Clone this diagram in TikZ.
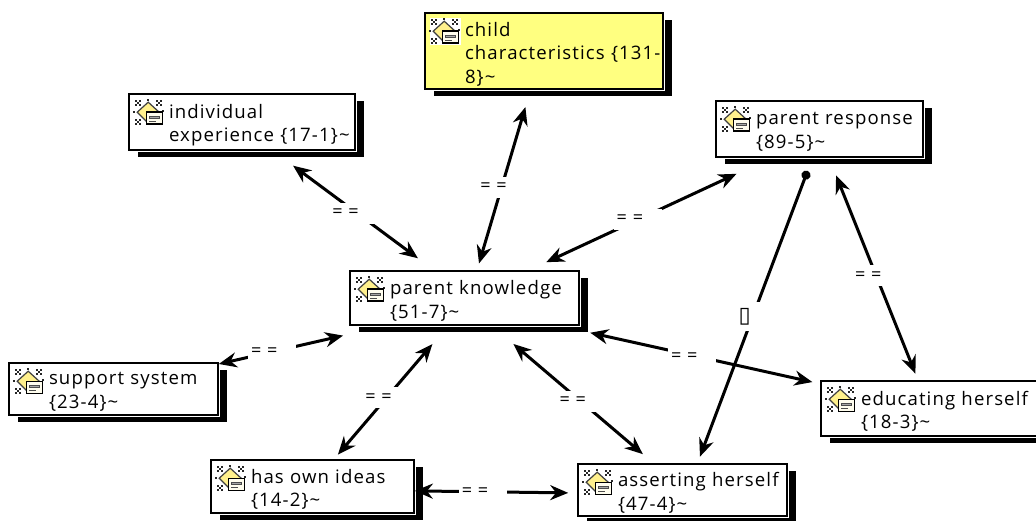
\documentclass[tikz,border=0pt]{standalone}
\usepackage{fontspec}
\setmainfont[LetterSpace=6]{Open Sans}
\newfontfamily\boxglyph{DejaVu Sans}
\usepackage{tikz}
\usetikzlibrary{arrows.meta, shadows, positioning}

\definecolor{notefill}{HTML}{FFFF80}
\definecolor{iconfill}{HTML}{FFF08C}

\tikzset{
    concept/.style n args={2}{draw=black, line width=1.6pt, fill=white, inner sep=0pt,
        minimum width=#1, text width=#1, minimum height=#2,
        font=\fontsize{18.6}{23.5}\selectfont,
        execute at begin node={\raggedright\leftskip=40pt\relax},
        execute at end node={\par\vspace{-6pt}},
        drop shadow={shadow xshift=9pt, shadow yshift=-7pt, opacity=1, fill=black},
        preaction={draw=white, line width=4pt}},
    link/.style={line width=3pt, {Stealth[length=18pt,width=15pt]}-{Stealth[length=18pt,width=15pt]}},
    dotlink/.style={line width=3pt, {Circle[length=9pt]}-{Stealth[length=18pt,width=15pt]}},
    eqmark/.style={fill=white, inner xsep=3pt, inner ysep=6pt, font=\fontsize{18}{18}\selectfont,
        execute at end node={\hspace{16pt}}},
    pics/concepticon/.style={code={
        \fill[white] (0,0) rectangle (31,27);
        \foreach \cx/\cy in {4/4, 2/2, 6/2, 2/6, 6/6, 14/1, 25/4, 23/2, 27/2, 23/6, 27/6, 4/23, 2/21, 6/21, 2/25, 6/25, 0/13, 29/12}{
            \fill[black!85] (\cx-1.1,\cy-1.1) rectangle (\cx+1.1,\cy+1.1);
        }
        \draw[black!75, fill=iconfill, line width=1.2pt] (14,3) -- (25,13) -- (14,24) -- (3,13) -- cycle;
        \draw[black, fill=white!85!iconfill, line width=1.4pt] (12,13) rectangle (28,25);
        \draw[black!70, fill=black!35, line width=0.6pt] (15,17) rectangle (25,19);
        \draw[black!70, line width=1pt] (15,22) -- (22,22);
    }}
}

\begin{document}
\begin{tikzpicture}[x=1pt, y=-1pt]
    \useasboundingbox (0,0) rectangle (1036,521);
    \clip (0,0) rectangle (1036,521);

    % concepts
    \node[concept={238pt}{76pt}, fill=notefill] (child) at (544,51) {child\\characteristics \{131-\\8\}\textasciitilde};
    \node[concept={226pt}{56pt}] (individual) at (242,122) {individual\\experience \{17-1\}\textasciitilde};
    \node[concept={207pt}{56pt}] (response) at (819.5,129) {parent response\\\{89-5\}\textasciitilde};
    \node[concept={229pt}{54pt}] (knowledge) at (464.5,298) {parent knowledge\\\{51-7\}\textasciitilde};
    \node[concept={209pt}{52pt}] (support) at (113.5,389) {support system\\\{23-4\}\textasciitilde};
    \node[concept={230pt}{55pt}] (educating) at (936,408.5) {educating herself\\\{18-3\}\textasciitilde};
    \node[concept={203pt}{53pt}] (ideas) at (312.5,486.5) {has own ideas\\\{14-2\}\textasciitilde};
    \node[concept={209pt}{52pt}] (asserting) at (682.5,490) {asserting herself\\\{47-4\}\textasciitilde};

    % icons
    \foreach \boxname in {child, individual, response, knowledge, support, educating, ideas, asserting}{
        \pic at ([shift={(6pt,-6pt)}]\boxname.north west) {concepticon};
    }

    % links
    \draw[link, shorten <=20pt, shorten >=25pt] ([xshift=-30.5pt]knowledge.north) -- node[eqmark, pos=.5, yshift=-3pt]{= =} ([xshift=31pt]individual.south);
    \draw[link, shorten <=7pt, shorten >=18pt] ([xshift=12.5pt]knowledge.north) -- node[eqmark, pos=.46]{= =} ([xshift=-13.5pt]child.south);
    \draw[link, shorten <=19pt, shorten >=38pt] ([xshift=64.5pt]knowledge.north) -- node[eqmark, pos=.45]{= =} ([xshift=-48.5pt]response.south);
    \draw[link, shorten >=44pt] ([yshift=25pt]support.east) -- node[eqmark, pos=.32]{= =} ([xshift=-78.5pt]knowledge.south);
    \draw[link, shorten <=6pt, shorten >=24pt] ([xshift=21.5pt]ideas.north) -- node[eqmark, pos=.46]{= =} ([xshift=-16.5pt]knowledge.south);
    \draw[link, shorten <=28pt, shorten >=14pt] ([xshift=27.5pt]knowledge.south) -- node[eqmark, pos=.55]{= =} ([xshift=-29pt]asserting.north);
    \draw[link, shorten <=32pt, shorten >=8pt] ([xshift=94.5pt]knowledge.south) -- node[eqmark, pos=.51, yshift=-2pt]{= =} ([yshift=24.7pt]educating.west);
    \draw[link, shorten <=19pt, shorten >=7pt] ([xshift=9.5pt]response.south) -- node[eqmark, pos=.53]{= =} ([xshift=-18pt]educating.north);
    \draw[link, shorten >=9pt] ([yshift=-4.4pt]ideas.east) -- node[eqmark, pos=.42]{= =} ([yshift=-3pt]asserting.west);
    \draw[dotlink, shorten <=14pt, shorten >=7pt] ([xshift=-7pt]response.south) -- node[eqmark, pos=.52, font=\boxglyph\fontsize{22}{22}\selectfont]{▯} ([xshift=15pt]asserting.north);
\end{tikzpicture}
\end{document}
